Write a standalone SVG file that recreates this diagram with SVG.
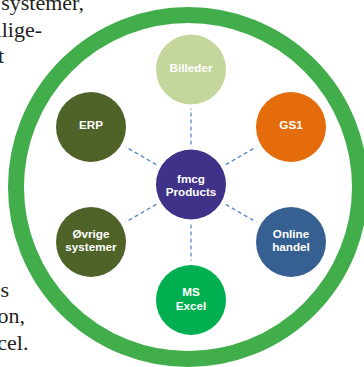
<svg xmlns="http://www.w3.org/2000/svg" width="364" height="367" viewBox="0 0 364 367">
<style>
.para{font-family:"Liberation Serif","Times New Roman",serif;font-size:22px;fill:#231f20;text-anchor:end}
.lbl{font-family:"Liberation Sans",Arial,sans-serif;font-size:11.7px;font-weight:bold;fill:#ffffff;text-anchor:middle}
.conn line{stroke:#5b8bd0;stroke-width:1.3;stroke-dasharray:4 3;fill:none}
</style>
<rect width="364" height="367" fill="#ffffff"/>
<g id="paragraph">
<text class="para" x="84" y="10">systemer,</text>
<text class="para" x="42" y="36.5">llige-</text>
<text class="para" x="4" y="63">t</text>
<text class="para" x="9" y="296.5">s</text>
<text class="para" x="25" y="323">on,</text>
<text class="para" x="28.5" y="350">cel.</text>
</g>
<g id="ring">
<circle cx="188" cy="187" r="172" fill="none" stroke="#41ad4b" stroke-width="16"/>
</g>
<g id="connectors" class="conn">
<line x1="191" y1="144.5" x2="191" y2="108.5"/>
<line x1="191" y1="224.5" x2="191" y2="260.5"/>
<line x1="156.3" y1="164.6" x2="125.7" y2="146.9"/>
<line x1="225.7" y1="164.6" x2="256.3" y2="146.9"/>
<line x1="156.3" y1="204.4" x2="125.7" y2="222.1"/>
<line x1="225.7" y1="204.4" x2="256.3" y2="222.1"/>
</g>
<g id="node-center">
<circle cx="191" cy="184.5" r="35" fill="#403189"/>
<text class="lbl" x="191" y="182.5">fmcg</text>
<text class="lbl" x="191" y="196">Products</text>
</g>
<g id="node-billeder">
<circle cx="191" cy="69.5" r="35" fill="#c4d69c"/>
<text class="lbl" x="191" y="71.5">Billeder</text>
</g>
<g id="node-erp">
<circle cx="91" cy="127" r="35" fill="#4f6228"/>
<text class="lbl" x="91" y="129">ERP</text>
</g>
<g id="node-gs1">
<circle cx="291" cy="127" r="35" fill="#e46c0a"/>
<text class="lbl" x="291" y="129">GS1</text>
</g>
<g id="node-ovrige">
<circle cx="91" cy="242" r="35" fill="#4f6228"/>
<text class="lbl" x="91" y="237.7">Øvrige</text>
<text class="lbl" x="91" y="251">systemer</text>
</g>
<g id="node-online">
<circle cx="291" cy="242" r="35" fill="#366092"/>
<text class="lbl" x="291" y="237.5">Online</text>
<text class="lbl" x="291" y="251">handel</text>
</g>
<g id="node-excel">
<circle cx="191" cy="300" r="35" fill="#00b050"/>
<text class="lbl" x="191" y="296">MS</text>
<text class="lbl" x="191" y="310">Excel</text>
</g>
</svg>
